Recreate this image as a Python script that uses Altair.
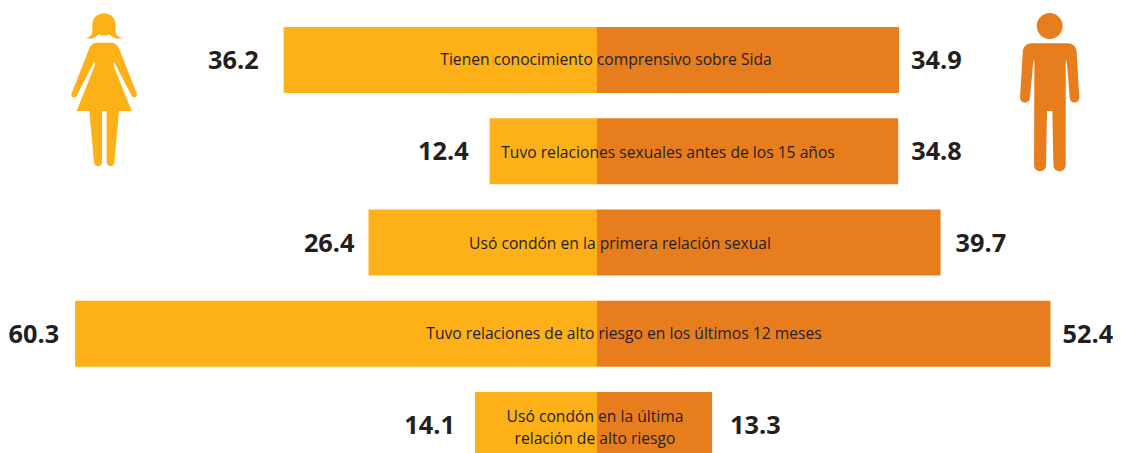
import re
import altair as alt
import pandas as pd

labels = [
    "Tienen conocimiento comprensivo sobre Sida",
    "Tuvo relaciones sexuales antes de los 15 años",
    "Usó condón en la primera relación sexual",
    "Tuvo relaciones de alto riesgo en los últimos 12 meses",
    "Usó condón en la última\nrelación de alto riesgo",
]
mujeres = [36.2, 12.4, 26.4, 60.3, 14.1]
hombres = [34.9, 34.8, 39.7, 52.4, 13.3]

COL_F = "#FDB018"
COL_M = "#E87D1E"
INK = "#231F20"
W, H = 1105, 445
UNIT = 8.655
CENTER = 589
x_scale = alt.Scale(domain=[-CENTER / UNIT, (W - CENTER) / UNIT], range=[0, W], nice=False, zero=False)
y_scale = alt.Scale(domain=labels, range=[19, 450], paddingInner=0.2767, paddingOuter=0)

# per-row label nudges, in pixels
label_dx = [9, 71, 23, 27, -2]
label_dy = [0, 2, 1, 0, -8]
left_dx = [-25, -21, -14, -16, -20]
right_dx = [12, 13, 15, 12, 18]

df = pd.DataFrame({"label": labels, "f": [-v for v in mujeres], "m": hombres,
                   "ft": [f"{v:.1f}" for v in mujeres], "mt": [f"{v:.1f}" for v in hombres],
                   "zero": [0] * 5})

X = lambda f: alt.X(f"{f}:Q", scale=x_scale, axis=None)
Y = alt.Y("label:N", scale=y_scale, axis=None, sort=labels)

bar_f = alt.Chart(df).mark_bar(color=COL_F, cornerRadius=0).encode(x=X("f"), x2="zero:Q", y=Y)
bar_m = alt.Chart(df).mark_bar(color=COL_M, cornerRadius=0).encode(x=X("zero"), x2="m:Q", y=Y)
layers = [bar_f, bar_m]

for i in range(5):
    row = df.iloc[[i]]
    layers.append(alt.Chart(row).mark_text(
        font="Open Sans", fontSize=15.65, color=INK, align="center", baseline="middle",
        dx=label_dx[i], dy=label_dy[i], lineBreak="\n", lineHeight=22,
    ).encode(x=X("zero"), y=Y, text="label:N"))
    layers.append(alt.Chart(row).mark_text(
        font="Open Sans", fontWeight="bold", fontSize=25.3, color=INK, align="right", baseline="middle",
        dx=left_dx[i], dy=1,
    ).encode(x=X("f"), y=Y, text="ft:N"))
    layers.append(alt.Chart(row).mark_text(
        font="Open Sans", fontWeight="bold", fontSize=25.3, color=INK, align="left", baseline="middle",
        dx=right_dx[i], dy=1,
    ).encode(x=X("m"), y=Y, text="mt:N"))


def icon_path(d, cx, cy):
    nums = iter(range(10 ** 6))
    def repl(m):
        k = next(nums)
        v = float(m.group())
        return f"{(v - (cx if k % 2 == 0 else cy)) / 3:.2f}"
    return re.sub(r"\d+(?:\.\d+)?", repl, d)


WOMAN = (
    "M162 40 C140 40 127 56 127 75 L127 92 C127 105 120 112 107 114 C125 118 138 114 146 103 "
    "C152 108 172 108 178 103 C186 114 200 118 218 114 C205 112 197 105 197 92 L197 75 C197 56 184 40 162 40 Z "
    "M140 128 L185 128 C195 128 203 135 207 145 L260 280 C264 292 249 297 245 287 L192 185 L190 195 L245 333 "
    "L207 333 L193 487 C192 503 171 503 170 487 L170 333 L156 333 L156 487 C155 503 134 503 132 487 L118 333 "
    "L80 333 L135 195 L133 185 L80 287 C75 297 60 292 65 280 L118 145 C122 135 130 128 140 128 Z"
)
MAN = (
    "M149 39 C170 39 188 57 188 78 C188 99 170 117 149 117 C128 117 110 99 110 78 C110 57 128 39 149 39 Z "
    "M95 130 L203 130 C220 130 230 142 230 158 L238 292 C238 313 209 313 209 292 L200 182 L197 182 L197 495 "
    "C197 520 160 520 160 495 L157 333 L141 333 L138 495 C138 520 102 520 102 495 L103 182 L100 182 L90 292 "
    "C90 313 60 313 60 292 L68 158 C68 142 78 130 95 130 Z"
)


def icon(path, color, px, py):
    return alt.Chart(pd.DataFrame({"i": [0]})).mark_point(
        shape=path, filled=True, size=4, color=color, opacity=1, strokeWidth=0,
    ).encode(x=alt.value(px), y=alt.value(py))


layers.append(icon(icon_path(WOMAN, 162, 270), COL_F, 96, 82))
layers.append(icon(icon_path(MAN, 149, 270), COL_M, 1041.7, 82))

chart = alt.layer(*layers).properties(
    width=W, height=H, padding=0, autosize=alt.AutoSizeParams(type="none"),
).configure_view(stroke=None)

chart.save("out.html", embed_options={"renderer": "svg", "actions": False})
